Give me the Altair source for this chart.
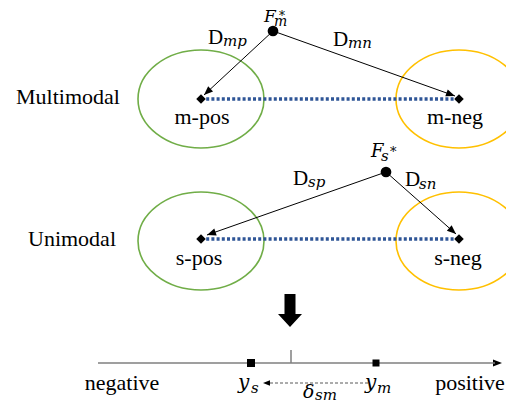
import math
import altair as alt
import pandas as pd

# ---------------- data (positions in picture pixels) ----------------
# feature points F*
circle_x = [273, 386]
circle_y = [31, 172]

# class centres (diamonds)
diamond_x = [201, 459, 201, 459]
diamond_y = [99, 99, 239, 239]

# class clusters (ellipses)
ellipse_x = [201, 459, 201, 459]
ellipse_y = [99, 99, 241, 241]
ellipse_color = ["#70AD47", "#FFC000", "#70AD47", "#FFC000"]

# distance arrows D
arrow_x1 = [273, 273, 386, 386]
arrow_y1 = [31, 31, 172, 172]
arrow_x2 = [204, 455, 207, 456]
arrow_y2 = [95, 96, 235, 234]

# dotted pos-neg links
dotted_x1 = [201, 201]
dotted_x2 = [459, 459]
dotted_y = [99, 239]

# sentiment axis
axis_x = [98, 495]
axis_y = [363, 363]
tick_x = [291]
tick_y1 = [350]
tick_y2 = [363]
square_x = [251, 376]
square_y = [363, 363]
square_size = [64, 49]

# delta arrow
delta_x1 = [368]
delta_x2 = [266]
delta_y = [383]

# big down arrow (tip)
big_x = [290]
big_y = [327]

# texts
roman_text = ["Multimodal", "Unimodal", "m-pos", "m-neg", "s-pos", "s-neg", "negative", "positive"]
roman_x = [68, 72, 202, 455, 199, 458, 122, 470]
roman_y = [104, 246, 124, 124, 265, 265, 390, 390]

d_text = ["D", "D", "D", "D"]
d_x = [208, 333, 293, 405]
d_y = [44, 46, 185, 186]

ital_text = ["F", "m", "*", "mp", "mn", "F", "s", "*", "sp", "sn",
             "y", "s", "y", "m", "δ", "sm"]
ital_x = [264, 274, 279, 223, 348, 371, 381, 390, 308, 419,
          238, 251, 365, 377, 303, 315]
ital_y = [22, 26, 20, 46, 48, 157, 161, 156, 187, 189,
          389, 393, 389, 393, 398, 400]
ital_size = [17, 14, 12, 15, 15, 18, 15, 13, 15, 15,
             20, 15, 20, 15, 19, 15]

# ---------------- shapes ----------------
K = 0.5523
RY = 49 / 63
ELLIPSE = (f"M -1 0 C -1 {-K*RY:.4f} {-K:.4f} {-RY:.4f} 0 {-RY:.4f} "
           f"C {K:.4f} {-RY:.4f} 1 {-K*RY:.4f} 1 0 "
           f"C 1 {K*RY:.4f} {K:.4f} {RY:.4f} 0 {RY:.4f} "
           f"C {-K:.4f} {RY:.4f} -1 {K*RY:.4f} -1 0 Z")
HEAD = "M 0 0 L -0.4 1 L 0.4 1 Z"
BIG = ("M -0.344 -2.06 L 0.344 -2.06 L 0.344 -0.81 L 0.75 -0.81 "
       "L 0 0 L -0.75 -0.81 L -0.344 -0.81 Z")

xs = alt.Scale(domain=[8, 506], nice=False, zero=False)
ys = alt.Scale(domain=[8, 403], nice=False, zero=False, reverse=True)


def X(f="x"):
    return alt.X(f"{f}:Q", scale=xs, axis=None)


def Y(f="y"):
    return alt.Y(f"{f}:Q", scale=ys, axis=None)


def ang(dx, dy):
    return math.degrees(math.atan2(dx, -dy)) % 360


# ---------------- tables ----------------
ell_df = pd.DataFrame({"x": ellipse_x, "y": ellipse_y, "c": ellipse_color})
dot_df = pd.DataFrame({"x": dotted_x1, "x2": dotted_x2, "y": dotted_y})
arr_df = pd.DataFrame({"x": arrow_x1, "y": arrow_y1, "x2": arrow_x2, "y2": arrow_y2})

heads = []
for a, b, c, d in zip(arrow_x1, arrow_y1, arrow_x2, arrow_y2):
    heads.append({"x": c, "y": d, "a": ang(c - a, d - b), "s": 324})
heads.append({"x": 502, "y": axis_y[0], "a": ang(1, 0), "s": 324})
head_df = pd.DataFrame(heads)
dhead_df = pd.DataFrame({"x": [delta_x2[0] - 3], "y": delta_y, "a": [ang(-1, 0)]})

circ_df = pd.DataFrame({"x": circle_x, "y": circle_y})
diam_df = pd.DataFrame({"x": diamond_x, "y": diamond_y})
sq_df = pd.DataFrame({"x": square_x, "y": square_y, "s": square_size})
axis_df = pd.DataFrame({"x": [axis_x[0]], "x2": [axis_x[1]], "y": [axis_y[0]]})
tick_df = pd.DataFrame({"x": tick_x, "y": tick_y1, "y2": tick_y2})
delta_df = pd.DataFrame({"x": delta_x1, "x2": delta_x2, "y": delta_y})
big_df = pd.DataFrame({"x": big_x, "y": big_y})
rom_df = pd.DataFrame({"x": roman_x, "y": roman_y, "t": roman_text})
d_df = pd.DataFrame({"x": d_x, "y": d_y, "t": d_text})
it_df = pd.DataFrame({"x": ital_x, "y": ital_y, "t": ital_text, "s": ital_size})

# ---------------- layers ----------------
ellipses = alt.Chart(ell_df).mark_point(
    shape=ELLIPSE, filled=False, size=15876, strokeWidth=1.6, opacity=1
).encode(x=X(), y=Y(), color=alt.Color("c:N", scale=None))

dotted = alt.Chart(dot_df).mark_rule(
    color="#2F5597", strokeWidth=3.5, strokeDash=[3, 2.2]
).encode(x=X(), x2="x2:Q", y=Y())

arrows = alt.Chart(arr_df).mark_rule(color="black", strokeWidth=1).encode(
    x=X(), y=Y(), x2="x2:Q", y2="y2:Q")

arrowheads = alt.Chart(head_df).mark_point(
    shape=HEAD, filled=True, color="black", opacity=1
).encode(x=X(), y=Y(), angle=alt.Angle("a:Q", scale=None),
         size=alt.Size("s:Q", scale=None))

axis_line = alt.Chart(axis_df).mark_rule(color="#7F7F7F", strokeWidth=1.5).encode(
    x=X(), x2="x2:Q", y=Y())
tick = alt.Chart(tick_df).mark_rule(color="#7F7F7F", strokeWidth=1.5).encode(
    x=X(), y=Y(), y2="y2:Q")

delta_line = alt.Chart(delta_df).mark_rule(
    color="#595959", strokeWidth=1, strokeDash=[3, 2]
).encode(x=X(), x2="x2:Q", y=Y())
delta_head = alt.Chart(dhead_df).mark_point(
    shape=HEAD, filled=True, color="black", opacity=1, size=196
).encode(x=X(), y=Y(), angle=alt.Angle("a:Q", scale=None))

circles = alt.Chart(circ_df).mark_point(
    shape="circle", filled=True, color="black", size=115, opacity=1
).encode(x=X(), y=Y())
diamonds = alt.Chart(diam_df).mark_point(
    shape="diamond", filled=True, color="black", size=90, opacity=1
).encode(x=X(), y=Y())
squares = alt.Chart(sq_df).mark_point(
    shape="square", filled=True, color="black", opacity=1
).encode(x=X(), y=Y(), size=alt.Size("s:Q", scale=None))

big_arrow = alt.Chart(big_df).mark_point(
    shape=BIG, filled=True, color="black", size=1024, opacity=1
).encode(x=X(), y=Y())

roman = alt.Chart(rom_df).mark_text(
    font="Liberation Serif", fontSize=22, align="center", baseline="alphabetic",
    color="black"
).encode(x=X(), y=Y(), text="t:N")

dlabels = alt.Chart(d_df).mark_text(
    font="Liberation Serif", fontSize=21, align="left", baseline="alphabetic",
    color="black"
).encode(x=X(), y=Y(), text="t:N")

italic = alt.Chart(it_df).mark_text(
    font="DejaVu Serif", fontStyle="italic", align="left",
    baseline="alphabetic", color="black"
).encode(x=X(), y=Y(), text="t:N", size=alt.Size("s:Q", scale=None))

chart = alt.layer(
    ellipses, dotted, arrows, arrowheads, axis_line, tick, delta_line,
    delta_head, circles, diamonds, squares, big_arrow, roman, dlabels, italic
).properties(
    width=498, height=395, padding=0, autosize="none", background="white"
).configure_view(stroke=None)

chart.save("out.html", embed_options={"renderer": "svg", "actions": False})
